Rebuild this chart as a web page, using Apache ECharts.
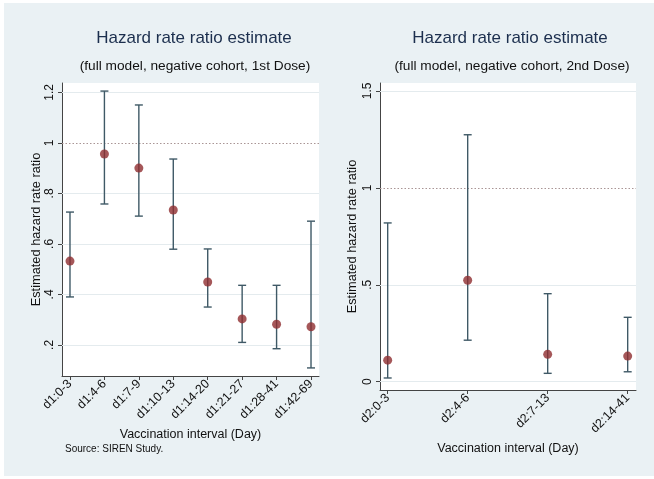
<!DOCTYPE html>
<html><head><meta charset="utf-8">
<script src="https://cdn.jsdelivr.net/npm/echarts@6/dist/echarts.min.js"></script>
<style>html,body{margin:0;padding:0;background:#fff}#c{width:654px;height:479px}</style>
</head><body><div id="c"></div>
<script>
// ---- data ----
const cat1 = ['d1:0-3','d1:4-6','d1:7-9','d1:10-13','d1:14-20','d1:21-27','d1:28-41','d1:42-69'];
const est1 = [0.532, 0.956, 0.900, 0.734, 0.449, 0.303, 0.282, 0.272];
const lo1  = [0.390, 0.758, 0.710, 0.579, 0.350, 0.210, 0.185, 0.109];
const hi1  = [0.726, 1.205, 1.150, 0.936, 0.580, 0.436, 0.436, 0.690];
const cat2 = ['d2:0-3','d2:4-6','d2:7-13','d2:14-41'];
const est2 = [0.111, 0.523, 0.141, 0.132];
const lo2  = [0.019, 0.214, 0.043, 0.051];
const hi2  = [0.819, 1.274, 0.454, 0.332];
const yTicks1 = [0.2, 0.4, 0.6, 0.8, 1, 1.2];
const yTicks2 = [0, 0.5, 1, 1.5];
const refValue = 1;

// ---- styles ----
const FONT = 'Liberation Sans';
const barColor = '#3f5966';
const dotColor = '#8e2d2f';
const gridColor = '#e4ebee';
const refColor = '#a99595';

const yFmt = v => { const s = String(+v.toFixed(2)); return s.replace(/^0\./, '.'); };

function errSeries(idx, cats, lo, hi) {
  return {
    type: 'custom', xAxisIndex: idx, yAxisIndex: idx, silent: true, z: 3,
    data: cats.map((c, i) => [i, lo[i], hi[i]]),
    renderItem: function (params, api) {
      const x = api.value(0);
      const p1 = api.coord([x, api.value(1)]);
      const p2 = api.coord([x, api.value(2)]);
      const w = 4;
      const st = { stroke: barColor, lineWidth: 1.4 };
      return { type: 'group', children: [
        { type: 'line', shape: { x1: p1[0], y1: p1[1], x2: p2[0], y2: p2[1] }, style: st },
        { type: 'line', shape: { x1: p1[0]-w, y1: p1[1], x2: p1[0]+w, y2: p1[1] }, style: st },
        { type: 'line', shape: { x1: p2[0]-w, y1: p2[1], x2: p2[0]+w, y2: p2[1] }, style: st }
      ]};
    }
  };
}
function dotSeries(idx, cats, est, ticks) {
  const lines = ticks.filter(t => t !== refValue).map(t => ({ yAxis: t, lineStyle: { color: gridColor, type: 'solid', width: 1 } }));
  lines.push({ yAxis: refValue, lineStyle: { color: refColor, type: [1.5, 2], width: 1 } });
  return {
    type: 'scatter', xAxisIndex: idx, yAxisIndex: idx, z: 4,
    data: cats.map((c, i) => [i, est[i]]),
    symbol: 'circle', symbolSize: 9,
    itemStyle: { color: dotColor },
    markLine: { silent: true, symbol: 'none', label: { show: false }, z: 1, data: lines }
  };
}
function xAxis(idx, cats, min, max, gap) {
  const vals = cats.map((c, i) => i);
  return {
    type: 'value', gridIndex: idx, min: min, max: max,
    name: 'Vaccination interval (Day)', nameLocation: 'middle', nameGap: gap,
    nameTextStyle: { fontFamily: FONT, fontSize: 12.5, color: '#111' },
    axisLine: { show: true, onZero: false, lineStyle: { color: '#444', width: 1 } },
    axisTick: { show: true, length: 4, customValues: vals, lineStyle: { color: '#444' } },
    axisLabel: { customValues: vals, rotate: 45, margin: 6, fontFamily: FONT, fontSize: 12.5, color: '#111',
      formatter: v => cats[Math.round(v)] },
    splitLine: { show: false }
  };
}
function yAxis(idx, ticks, min, max, gap) {
  return {
    type: 'value', gridIndex: idx, min: min, max: max,
    name: 'Estimated hazard rate ratio', nameLocation: 'middle', nameGap: gap, nameRotate: 90,
    nameTextStyle: { fontFamily: FONT, fontSize: 12.8, color: '#111' },
    axisLine: { show: true, onZero: false, lineStyle: { color: '#444', width: 1 } },
    axisTick: { show: true, length: 4, customValues: ticks, lineStyle: { color: '#444' } },
    axisLabel: { customValues: ticks, rotate: 90, margin: 6, fontFamily: FONT, fontSize: 12, color: '#111', formatter: yFmt },
    splitLine: { show: false }
  };
}

const chart = echarts.init(document.getElementById('c'));
chart.setOption({
  animation: false,
  backgroundColor: '#ffffff',
  graphic: [{ type: 'rect', z: -10, shape: { x: 4, y: 3, width: 650, height: 473 }, style: { fill: '#eaf1f4' } },
    { type: 'text', left: 65, top: 444, style: { text: 'Source: SIREN Study.', font: '10px "Liberation Sans"', fill: '#111' } }],
  title: [
    { text: 'Hazard rate ratio estimate', left: 189, top: 25, textAlign: 'center',
      textStyle: { fontFamily: FONT, fontSize: 17, fontWeight: 'normal', color: '#1c2f4e' } },
    { text: '(full model, negative cohort, 1st Dose)', left: 190, top: 54, textAlign: 'center',
      textStyle: { fontFamily: FONT, fontSize: 13.7, fontWeight: 'normal', color: '#111' } },
    { text: 'Hazard rate ratio estimate', left: 505, top: 25, textAlign: 'center',
      textStyle: { fontFamily: FONT, fontSize: 17, fontWeight: 'normal', color: '#1c2f4e' } },
    { text: '(full model, negative cohort, 2nd Dose)', left: 507, top: 54, textAlign: 'center',
      textStyle: { fontFamily: FONT, fontSize: 13.7, fontWeight: 'normal', color: '#111' } }
  ],
  grid: [
    { left: 62, top: 83, width: 257, height: 293, show: true, backgroundColor: '#ffffff', borderWidth: 0 },
    { left: 380, top: 83, width: 256, height: 307, show: true, backgroundColor: '#ffffff', borderWidth: 0 }
  ],
  xAxis: [ xAxis(0, cat1, -0.232, 7.232, 51), xAxis(1, cat2, -0.096, 3.104, 52) ],
  yAxis: [ yAxis(0, yTicks1, 0.077, 1.237, 19), yAxis(1, yTicks2, -0.043, 1.541, 21) ],
  series: [
    errSeries(0, cat1, lo1, hi1), dotSeries(0, cat1, est1, yTicks1),
    errSeries(1, cat2, lo2, hi2), dotSeries(1, cat2, est2, yTicks2)
  ]
});
</script></body></html>
